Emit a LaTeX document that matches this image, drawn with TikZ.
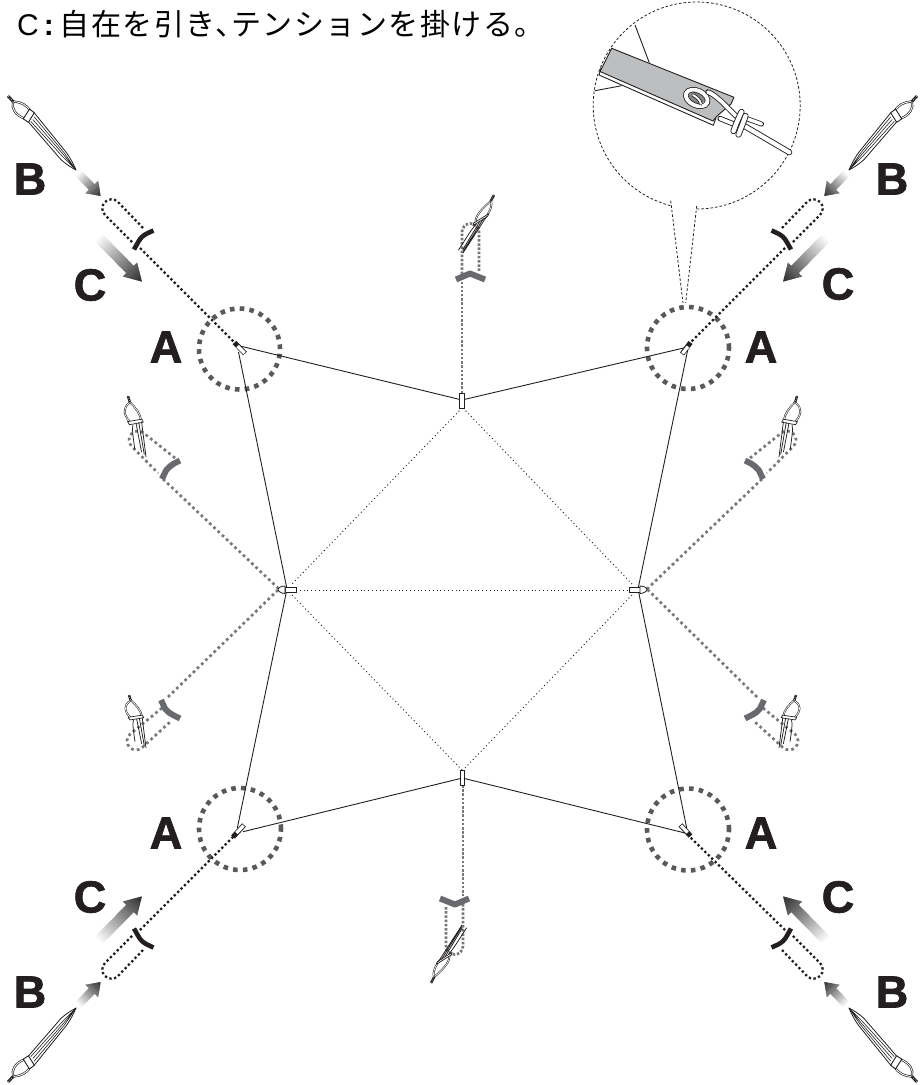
\documentclass[tikz,border=0pt]{standalone}
\usepackage{fontspec}
\setmainfont{Liberation Sans}
\newfontfamily\jpfont[LetterSpace=5]{Noto Sans CJK JP}
\newfontfamily\lab[BoldFeatures={FakeBold=1.6}]{Liberation Sans}
\definecolor{ringgray}{HTML}{58595B}
\definecolor{guygray}{HTML}{77787B}
\definecolor{bargray}{HTML}{696A6D}
\definecolor{bandgray}{HTML}{BCBEC0}
\definecolor{inkk}{HTML}{231F20}
\newcommand\rope[3]{\draw[inkk,line width=#1,line cap=round,line join=round] #3;\draw[white,line width=#2,line cap=round,line join=round] #3;}
\newcommand\fadearrow[7]{%
  \pgfmathsetmacro\fadeang{atan2(-(#4-#2),#3-#1)}%
  \pgfmathsetmacro\fadelen{veclen(#3-#1,#4-#2)}%
  \begin{scope}[shift={(#1,#2)},rotate=\fadeang]
    \clip (0,-#5/2) -- (\fadelen-#7,-#5/2) -- (\fadelen-#7,-#6/2) -- (\fadelen,0) -- (\fadelen-#7,#6/2) -- (\fadelen-#7,#5/2) -- (0,#5/2) -- cycle;
    \foreach \fadei in {0,...,39}{%
      \pgfmathsetmacro\fadep{82*\fadei/39}%
      \pgfmathsetmacro\fadea{\fadei*\fadelen/40}%
      \pgfmathsetmacro\fadeb{(\fadei+1.3)*\fadelen/40}%
      \fill[black!\fadep] (\fadea,-15) rectangle (\fadeb,15);
    }
  \end{scope}}
\newcommand\bigstake{%
  \begin{scope}[shift={(8,96)},x={(0.68pt,-0.74pt)},y={(0.74pt,0.675pt)}]
    \draw[inkk,line width=2.8pt] (0,0) -- (9,0);
    \draw[white,line width=.6pt,dash pattern=on .8pt off 1.6pt] (0,0) -- (9,0);
    \rope{2.2pt}{.9pt}{(8,0.5) .. controls (14,6) and (19,7.5) .. (26,6.5)}
    \rope{2.2pt}{.9pt}{(8,-0.5) .. controls (11,-5.5) and (18,-7.5) .. (27,-3.5)}
    \fill[white,draw=inkk,line width=.8pt,line join=round] (29,8) -- (80,4.8) .. controls (90,3.6) and (96,1.4) .. (100,0) .. controls (96,-1.4) and (90,-3.4) .. (82,-4) -- (35,-2.6) -- (29,-2) -- cycle;
    \fill[white,draw=inkk,line width=.9pt,line join=round] (24,7) -- (30,8) -- (33,-2.8) -- (27,-4.2) -- cycle;
    \draw[inkk,line width=.6pt] (33,5.2) -- (80,2.9) -- (100,0) (34,2.4) -- (80,1.2) -- (100,0) (34,-.4) -- (80,-.8) -- (100,0);
  \end{scope}}
\newcommand\smallstake[6]{%
  \begin{scope}[shift={(#1,#2)},x={(#3pt,-#4pt)},y={(#5pt,-#6pt)}]
    \draw[inkk,line width=2.4pt] (0,0) -- (11,0);
    \draw[white,line width=.5pt,dash pattern=on .7pt off 1.4pt] (0,0) -- (11,0);
    \rope{1.8pt}{.7pt}{(11,0.5) .. controls (18,4) and (30,7) .. (39,6)}
    \rope{1.8pt}{.7pt}{(11,-0.5) .. controls (20,-9) and (30,-10) .. (42,-6)}
    \fill[white,draw=inkk,line width=.7pt,line join=round] (38,7) -- (43,7.5) -- (47,-7) -- (42,-8) -- cycle;
    \draw[inkk,line width=.75pt] (42,6) -- (100,0) (43,3) -- (96,-1) (45,0) -- (92,-3) (47,-3.5) .. controls (54,-6) and (68,-7) .. (88,-9);
  \end{scope}}
\tikzset{
  blackguy/.style={inkk,line width=2.3pt,dash pattern=on 2.3pt off 2.5pt},
  grayguy/.style={guygray,line width=2.7pt,dash pattern=on 2.7pt off 3.1pt},
  densegray/.style={guygray,line width=2.7pt,dash pattern=on 2.5pt off 1.7pt},
  ringstyle/.style={ringgray,line width=4.6pt,dash pattern=on 4.6pt off 5.2pt},
  thinline/.style={inkk,line width=.9pt},
  thindot/.style={inkk,line width=.9pt,dash pattern=on 1pt off 2.8pt},
  detaildash/.style={inkk,line width=.8pt,dash pattern=on 2.6pt off 2pt},
  lettermark/.style={font=\lab\bfseries\fontsize{45pt}{45pt}\selectfont,text=inkk,inner sep=0pt,anchor=center},
  tabbox/.style={fill=white,draw=inkk,line width=1pt}
}
\newcommand\tentcorner[1]{%
  \bigstake
  \draw[blackguy] (143,228) -- (118,202) arc[start angle=45,end angle=225,radius=9.2pt] -- (133,243);
  \draw[blackguy] (140,248) -- (#1);
  \draw[inkk,line width=4.6pt] (134,249.5) -- (138.5,241.5) .. controls (140.5,238) and (143,235.5) .. (147,233.5) -- (153.5,230.5);
  \fadearrow{78}{173}{100.7}{196}{8}{18}{12.7}
  \fadearrow{98}{237}{142}{281.7}{10.5}{20}{17}}
\newcommand\upperside[1]{%
  \draw[grayguy] (175,458) -- (144.4,433.6) arc[start angle=45,end angle=225,radius=9pt] -- (158,473);
  \draw[grayguy] (163,479) -- (#1);
  \draw[bargray,line width=6pt] (162,479) -- (166,470.5) .. controls (168,467.5) and (171,465.5) .. (174,463.5) -- (180,460.5);
  \smallstake{128}{396}{.18}{.61}{1}{0}}
\newcommand\lowerside[1]{%
  \draw[grayguy] (162,708) -- (129.6,734.6) arc[start angle=135,end angle=315,radius=9pt] -- (170,722);
  \draw[grayguy] (168,697) -- (#1);
  \draw[bargray,line width=6pt] (161,700) -- (165,708.5) .. controls (167,711.5) and (170,713.5) .. (173,715) -- (180,718.5);
  \smallstake{129}{695}{.17}{.53}{1}{0}}
\newcommand\topguy[1]{%
  \draw[densegray] (462,274) -- (462,232) arc[start angle=180,end angle=0,radius=8.5pt] -- (479,272);
  \draw[densegray] (#1) -- (462,282);
  \draw[bargray,line width=6pt,line join=round] (456,279.5) -- (470,273.5) -- (485,279.5);
  \smallstake{494}{195}{-.31}{.58}{.93}{-.47}}
\begin{document}
\begin{tikzpicture}[x=1pt,y=-1pt]
\useasboundingbox (0,0) rectangle (924,1085);
% title
\node[anchor=base west,inner sep=0pt] (title) at (17,35) {\fontsize{30pt}{32pt}\selectfont C\hspace{5pt}{\bfseries :}\hspace{6pt}{\jpfont 自在を引き、\hspace{-14pt}テンションを掛ける。}};
% named points of the tent
\coordinate (tabTL) at (236,344);
\coordinate (tabTR) at (689,344);
\coordinate (tabBL) at (234,836);
\coordinate (tabBR) at (689,836);
\coordinate (lineTLa) at (240,346);
\coordinate (lineTLb) at (238.5,352);
\coordinate (lineTRa) at (688,347);
\coordinate (lineTRb) at (687.7,350);
\coordinate (lineBLa) at (243,831.7);
\coordinate (lineBLb) at (237.3,828);
\coordinate (lineBRa) at (685,833);
\coordinate (lineBRb) at (686.7,828);
\coordinate (midT) at (462,400);
\coordinate (midB) at (462.5,778);
\coordinate (midL) at (287,589);
\coordinate (midR) at (638,589);
\coordinate (tabTend) at (462,393);
\coordinate (tabBend) at (463,785);
\coordinate (sideL) at (279,589);
\coordinate (sideR) at (647,589);
% ring circles
\draw[ringstyle] (239.5,349) circle[radius=40.5pt];
\draw[ringstyle] (688,348) circle[radius=41pt];
\draw[ringstyle] (240,829) circle[radius=41pt];
\draw[ringstyle] (688,829.5) circle[radius=41pt];
% thin inner dotted
\draw[thindot] (462,408) -- (292,584);
\draw[thindot] (463,408) -- (632,584);
\draw[thindot] (296,590) -- (628,590);
\draw[thindot] (292,595) -- (462,770);
\draw[thindot] (632,595) -- (463,770);
% tent edges
\draw[thinline] (lineTLa) -- (midT) -- (lineTRa);
\draw[thinline] (lineBLa) -- (midB) -- (lineBRa);
\draw[thinline] (lineTLb) -- (midL) -- (lineBLb);
\draw[thinline] (lineTRb) -- (midR) -- (lineBRb);
% corners
\tentcorner{tabTL}
\begin{scope}[xshift=925pt,xscale=-1]\tentcorner{tabTR}\end{scope}
\begin{scope}[yshift=-1178pt,yscale=-1]\tentcorner{tabBL}\end{scope}
\begin{scope}[xshift=925pt,xscale=-1,yshift=-1178pt,yscale=-1]\tentcorner{tabBR}\end{scope}
% side guys
\upperside{sideL}
\lowerside{sideL}
\begin{scope}[xshift=925pt,xscale=-1]\upperside{sideR}\lowerside{sideR}\end{scope}
% centre guys
\topguy{tabTend}
\begin{scope}[xshift=925pt,xscale=-1,yshift=-1178pt,yscale=-1]\topguy{tabBend}\end{scope}
% tabs
\draw[inkk,line width=5pt] (234.5,342.5) -- (245,353.5);
\draw[white,line width=3.2pt] (237.5,346) -- (244.5,353);
\draw[inkk,line width=5pt] (690.5,342.5) -- (682,354);
\draw[white,line width=3.2pt] (688,346.5) -- (682.5,353.5);
\draw[inkk,line width=5pt] (233,837) -- (244,825);
\draw[white,line width=3.2pt] (236.5,833) -- (243.5,825.5);
\draw[inkk,line width=5pt] (690.5,836) -- (680.5,825);
\draw[white,line width=3.2pt] (687.5,832.5) -- (681,825.5);
\node[tabbox,minimum width=4.5pt,minimum height=15pt,inner sep=0pt] (tabT) at (462,400.5) {};
\node[tabbox,minimum width=4.5pt,minimum height=15pt,inner sep=0pt] (tabB) at (462.5,777.5) {};
% side tabs
\draw[inkk,fill=white,line width=.8pt] (285,587) -- (296,587) -- (296,592.5) -- (285,592.5) -- cycle;
\draw[inkk,fill=white,line width=.8pt] (285,586) .. controls (281,586) and (278,588) .. (278,589.5) .. controls (278,591) and (281,593.5) .. (285,593.5) -- cycle;
\draw[inkk,fill=white,line width=.8pt] (629,587) -- (640,587) -- (640,592.5) -- (629,592.5) -- cycle;
\draw[inkk,fill=white,line width=.8pt] (640,586) .. controls (644,586) and (647,588) .. (647,589.5) .. controls (647,591) and (644,593.5) .. (640,593.5) -- cycle;
% detail circle
\draw[detaildash] (696.7,209) arc[start angle=-90,end angle=255.6,radius=103.5pt];
\draw[detaildash] (670.7,200.7) -- (683,303);
\draw[detaildash] (696.7,206) -- (685.7,303);
% detail content
\draw[thinline] (635,25) -- (649.3,62.7);
\draw[thinline] (595,90.7) -- (621.7,85.7);
\rope{6pt}{4.2pt}{(741,124) -- (789.3,152.3)}
\rope{5pt}{3.4pt}{(745,118) -- (761.5,124)}
\fill[white,draw=inkk,line width=.9pt,line join=round] (599,75) -- (713.3,125.3) -- (716,118) -- (601,68) -- cycle;
\fill[bandgray,draw=inkk,line width=.9pt,line join=round] (611.7,48.3) -- (734,97.3) -- (731,104) -- (716.5,116.5) -- (713,121) -- (600,71.5) -- cycle;
\fill[inkk!35!bandgray] (696.7,98) ellipse[x radius=9pt,y radius=6pt];
\draw[inkk,line width=5.4pt,rotate around={-25:(696.7,98)}] (696.7,98) ellipse[x radius=11.5pt,y radius=7.5pt];
\draw[white,line width=3.8pt,rotate around={-25:(696.7,98)}] (696.7,98) ellipse[x radius=11.5pt,y radius=7.5pt];
\rope{3.4pt}{1.8pt}{(693,95) .. controls (697,97) and (700,100) .. (701,104)}
\rope{5.4pt}{3.7pt}{(708,92) .. controls (716,95) and (726,106) .. (736,116)}
\rope{5.4pt}{3.6pt}{(720,118.5) -- (733.5,124)}
\rope{6.2pt}{4.4pt}{(741.5,112) .. controls (738.5,118) and (736,124) .. (733.5,131)}
\rope{6.2pt}{4.4pt}{(745.5,116) .. controls (743.5,122) and (741,128) .. (738.5,134.5)}
% letters
\node[lettermark] (bTL) at (30,179) {B};
\node[lettermark] (cTL) at (90,285) {C};
\node[lettermark] (aTL) at (166,347) {A};
\node[lettermark] (bTR) at (892,179) {B};
\node[lettermark] (cTR) at (838,284) {C};
\node[lettermark] (aTR) at (761,347) {A};
\node[lettermark] (bBL) at (30,992) {B};
\node[lettermark] (cBL) at (90,897) {C};
\node[lettermark] (aBL) at (166,833) {A};
\node[lettermark] (bBR) at (892,992) {B};
\node[lettermark] (cBR) at (838,897) {C};
\node[lettermark] (aBR) at (761,833) {A};
\end{tikzpicture}
\end{document}
